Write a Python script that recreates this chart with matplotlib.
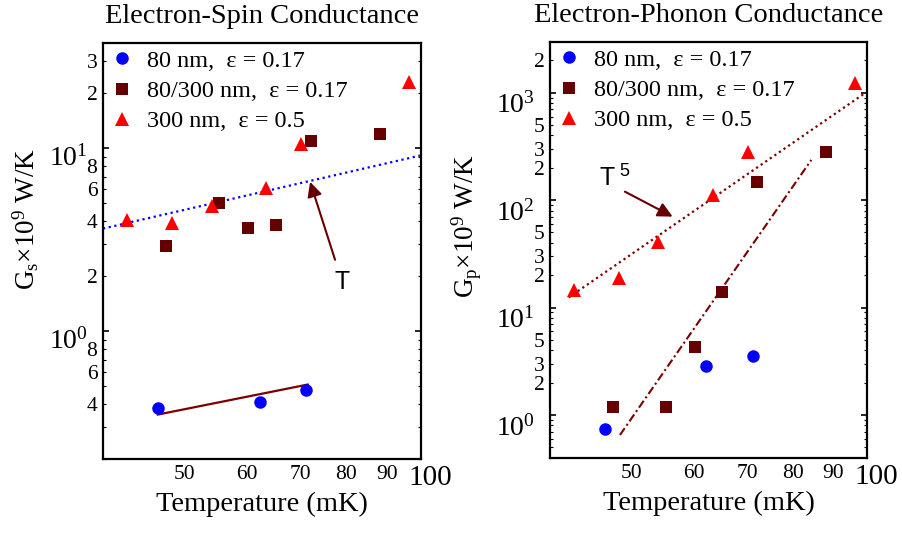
import math
import matplotlib
matplotlib.use("Agg")
import matplotlib.pyplot as plt
import matplotlib.transforms as mtransforms
from matplotlib.ticker import FixedLocator, LogLocator, FuncFormatter
from matplotlib.lines import Line2D

plt.rcParams['font.family'] = ['Liberation Serif', 'DejaVu Serif']
plt.rcParams['mathtext.fontset'] = 'custom'
plt.rcParams['mathtext.rm'] = 'Liberation Serif'
plt.rcParams['mathtext.it'] = 'Liberation Serif:italic'
plt.rcParams['mathtext.bf'] = 'Liberation Serif:bold'

# ---------------- data ----------------
series_labels = ["80 nm,  \u03b5 = 0.17", "80/300 nm,  \u03b5 = 0.17", "300 nm,  \u03b5 = 0.5"]

T_80 = [46.3, 62.2, 71.2]
Gs_80 = [0.382, 0.412, 0.481]
Gp_80 = [0.736, 2.88, 3.54]

T_mix = [47.4, 55.3, 60.2, 65.2, 72.1, 88.1]
Gs_mix = [2.91, 5.02, 3.69, 3.79, 11.0, 12.0]
Gp_mix = [1.18, 1.18, 4.32, 13.9, 148.7, 279.0]

T_300 = [42.4, 48.2, 54.1, 63.4, 70.2, 95.9]
Gs_300 = [4.07, 3.90, 4.85, 6.03, 10.5, 23.0]
Gp_300 = [14.6, 18.7, 40.5, 111.8, 283.0, 1225.0]

# fit lines (end points)
spin_T_fit_T = [39.5, 99.3]
spin_T_fit_G = [3.64, 9.14]
spin_80_fit_T = [46.3, 71.5]
spin_80_fit_G = [0.351, 0.512]
ph_T5_fit_T = [41.7, 98.3]
ph_T5_fit_G = [12.4, 975.0]
ph_mix_fit_T = [48.4, 84.4]
ph_mix_fit_G = [0.651, 236.8]

x_ticks = [50, 60, 70, 80, 90]
x_lim = (39.5, 99.3)
spin_ylim = (0.2, 37.7)
phon_ylim = (0.395, 2985)
spin_major = [1, 10]
spin_minor_labeled = {0.4: "4", 0.6: "6", 0.8: "8", 2: "2", 4: "4", 6: "6", 8: "8", 20: "2", 30: "3"}
phon_major = [1, 10, 100, 1000]
phon_minor_labeled = {2: "2", 3: "3", 5: "5", 20: "2", 30: "3", 50: "5",
                      200: "2", 300: "3", 500: "5", 2000: "2"}

C_BLUE = "#0000ff"
C_SQ = "#660000"
C_TRI = "#ff0000"
C_LINE = "#7a0000"

fig = plt.figure(figsize=(9.03, 5.48), dpi=100)
W, H = 903, 548


def px_axes(x0, y0, x1, y1):
    return fig.add_axes([x0 / W, 1 - y1 / H, (x1 - x0) / W, (y1 - y0) / H])


def style_axes(ax, ylim, majors, minor_labels, title, ylabel, ylab_pos, major_shift):
    ax.set_xscale("log")
    ax.set_yscale("log")
    ax.set_xlim(*x_lim)
    ax.set_ylim(*ylim)
    for s in ax.spines.values():
        s.set_linewidth(1.6)
    ax.xaxis.set_major_locator(FixedLocator(x_ticks))
    ax.xaxis.set_major_formatter(FuncFormatter(lambda v, p: "%d" % round(v)))
    ax.xaxis.set_minor_locator(FixedLocator([]))
    ax.tick_params(axis="x", which="both", length=0, pad=4, labelsize=15.5)
    ax.text(1.028, -0.014, "100", transform=ax.transAxes, ha="center", va="top", fontsize=21)

    ax.yaxis.set_major_locator(FixedLocator(majors))
    ax.yaxis.set_major_formatter(FuncFormatter(lambda v, p: r"$10^{%d}$" % round(math.log10(v))))
    ax.yaxis.set_minor_locator(LogLocator(base=10, subs=range(2, 10), numticks=20))

    def minfmt(v, p):
        for k, lab in minor_labels.items():
            if abs(v - k) / k < 1e-6:
                return lab
        return ""
    ax.yaxis.set_minor_formatter(FuncFormatter(minfmt))
    ax.tick_params(axis="y", which="major", direction="in", left=True, right=True,
                   length=4, width=1.2, labelsize=20, pad=11)
    ax.tick_params(axis="y", which="minor", direction="in", left=True, right=True,
                   length=2, width=0.8, labelsize=15.5, pad=4)
    offset = mtransforms.ScaledTranslation(0, -major_shift / 100.0, fig.dpi_scale_trans)
    for lab in ax.yaxis.get_majorticklabels():
        lab.set_transform(lab.get_transform() + offset)

    ax.set_title(title, fontsize=20.5, pad=14)
    ax.set_xlabel("Temperature (mK)", fontsize=20.5, labelpad=6)
    ax.set_ylabel(ylabel, fontsize=19.5)
    ax.yaxis.set_label_coords(*ylab_pos)


def add_legend(ax):
    handles = [
        Line2D([], [], ls="none", marker="o", ms=9, color=C_BLUE, mew=0),
        Line2D([], [], ls="none", marker="s", ms=9, color=C_SQ, mew=0),
        Line2D([], [], ls="none", marker="^", ms=9.5, color=C_TRI, mew=0),
    ]
    ax.legend(handles, series_labels, loc="upper left", bbox_to_anchor=(0.0, 1.0),
              frameon=False, fontsize=17.5, borderaxespad=0, borderpad=0.3,
              handlelength=1.0, handletextpad=0.5, labelspacing=0.33, numpoints=1)


# ---------------- left panel ----------------
ax1 = px_axes(103, 42.7, 421, 459.3)
style_axes(ax1, spin_ylim, spin_major, spin_minor_labeled, "Electron-Spin Conductance",
           r"G$_\mathrm{s}$$\times$10$^{9}$ W/K", (-0.195, 0.577), 7)
ax1.plot(spin_T_fit_T, spin_T_fit_G, color=C_BLUE, lw=1.6, ls=(0, (1, 1.6)))
ax1.plot(spin_80_fit_T, spin_80_fit_G, color=C_LINE, lw=1.6)
ax1.plot(T_80, Gs_80, ls="none", marker="o", ms=9, color=C_BLUE, mew=0)
ax1.plot(T_mix, Gs_mix, ls="none", marker="s", ms=9, color=C_SQ, mew=0)
ax1.plot(T_300, Gs_300, ls="none", marker="^", ms=9.5, color=C_TRI, mew=0)
ax1.annotate("", xy=(72.0, 6.55), xytext=(77.4, 2.46),
             arrowprops=dict(arrowstyle="-|>", color=C_SQ, lw=1.5, mutation_scale=22, shrinkA=0, shrinkB=0))
ax1.text(78.9, 1.87, "T", family=["Liberation Sans", "DejaVu Sans"], fontsize=18, ha="center", va="center")
add_legend(ax1)

# ---------------- right panel ----------------
ax2 = px_axes(550, 41.7, 867.3, 458.3)
style_axes(ax2, phon_ylim, phon_major, phon_minor_labeled, "Electron-Phonon Conductance",
           r"G$_\mathrm{p}$$\times$10$^{9}$ W/K", (-0.208, 0.558), 10)
ax2.plot(ph_T5_fit_T, ph_T5_fit_G, color=C_LINE, lw=1.6, ls=(0, (1, 1.5)))
ax2.plot(ph_mix_fit_T, ph_mix_fit_G, color=C_LINE, lw=1.5, ls=(0, (4, 1.5, 1, 1.5)))
ax2.plot(T_80, Gp_80, ls="none", marker="o", ms=9, color=C_BLUE, mew=0)
ax2.plot(T_mix, Gp_mix, ls="none", marker="s", ms=9, color=C_SQ, mew=0)
ax2.plot(T_300, Gp_300, ls="none", marker="^", ms=9.5, color=C_TRI, mew=0)
ax2.annotate("", xy=(56.4, 70.2), xytext=(49.1, 120),
             arrowprops=dict(arrowstyle="-|>", color=C_SQ, lw=1.5, mutation_scale=22, shrinkA=0, shrinkB=0))
ax2.text(46.6, 160, "T", family=["Liberation Sans", "DejaVu Sans"], fontsize=18, ha="center", va="center")
ax2.text(49.0, 185, "5", family=["Liberation Sans", "DejaVu Sans"], fontsize=13, ha="center", va="center")
add_legend(ax2)

fig.savefig("out.png", dpi=100)
